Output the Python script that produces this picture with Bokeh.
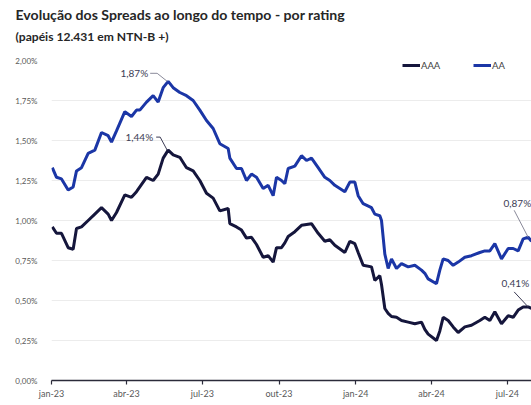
import pandas as pd
from bokeh.plotting import figure
from bokeh.models import (Range1d, FixedTicker, CustomJSTickFormatter, Legend,
                          LegendItem, Label, Title)
from bokeh.embed import file_html
from bokeh.resources import INLINE

# ---------------- data ----------------
dates = [
    "2023-01-02", "2023-01-07", "2023-01-13", "2023-01-21", "2023-01-27", "2023-01-31",
    "2023-02-06", "2023-02-14", "2023-02-22", "2023-03-02", "2023-03-10", "2023-03-14",
    "2023-03-20", "2023-03-30", "2023-04-07", "2023-04-13", "2023-04-17", "2023-04-25",
    "2023-05-03", "2023-05-09", "2023-05-15", "2023-05-21", "2023-05-27", "2023-06-04",
    "2023-06-12", "2023-06-20", "2023-06-28", "2023-07-06", "2023-07-14", "2023-07-22",
    "2023-08-01", "2023-08-03", "2023-08-11", "2023-08-17", "2023-08-23", "2023-08-29",
    "2023-09-04", "2023-09-12", "2023-09-18", "2023-09-24", "2023-09-28", "2023-10-04",
    "2023-10-08", "2023-10-12", "2023-10-20", "2023-10-28", "2023-11-03", "2023-11-09",
    "2023-11-17", "2023-11-25", "2023-12-01", "2023-12-07", "2023-12-19", "2023-12-25",
    "2023-12-31", "2024-01-04", "2024-01-10", "2024-01-20", "2024-01-24", "2024-01-30",
    "2024-02-01", "2024-02-05", "2024-02-09", "2024-02-13", "2024-02-19", "2024-02-25",
    "2024-03-04", "2024-03-12", "2024-03-20", "2024-03-24", "2024-03-28", "2024-04-07",
    "2024-04-11", "2024-04-15", "2024-04-21", "2024-04-27", "2024-05-03", "2024-05-11",
    "2024-05-19", "2024-05-29", "2024-06-04", "2024-06-10", "2024-06-16", "2024-06-24",
    "2024-07-02", "2024-07-08", "2024-07-14", "2024-07-20", "2024-07-26", "2024-07-30",
]
aa = [
    1.33, 1.27, 1.26, 1.19, 1.21, 1.31,
    1.33, 1.42, 1.44, 1.55, 1.53, 1.49,
    1.56, 1.68, 1.65, 1.69, 1.69, 1.74,
    1.78, 1.74, 1.83, 1.87, 1.83, 1.80,
    1.78, 1.75, 1.69, 1.625, 1.575, 1.48,
    1.45, 1.39, 1.325, 1.325, 1.25, 1.29,
    1.27, 1.20, 1.22, 1.155, 1.27, 1.25,
    1.23, 1.325, 1.34, 1.405, 1.375, 1.39,
    1.33, 1.27, 1.25, 1.22, 1.18, 1.24,
    1.24, 1.155, 1.105, 1.08, 1.04, 1.03,
    1.00, 0.79, 0.70, 0.76, 0.70, 0.73,
    0.71, 0.72, 0.69, 0.67, 0.635, 0.605,
    0.69, 0.76, 0.75, 0.72, 0.74, 0.77,
    0.78, 0.80, 0.81, 0.81, 0.855, 0.76,
    0.825, 0.825, 0.81, 0.885, 0.895, 0.87,
]
aaa = [
    0.96, 0.92, 0.92, 0.83, 0.82, 0.95,
    0.96, 1.00, 1.04, 1.08, 1.04, 1.00,
    1.05, 1.16, 1.145, 1.18, 1.21, 1.27,
    1.25, 1.29, 1.39, 1.44, 1.41, 1.395,
    1.33, 1.31, 1.25, 1.17, 1.14, 1.06,
    1.075, 0.98, 0.96, 0.94, 0.89, 0.895,
    0.85, 0.77, 0.78, 0.74, 0.83, 0.83,
    0.86, 0.90, 0.93, 0.97, 0.975, 0.98,
    0.92, 0.87, 0.88, 0.845, 0.80, 0.87,
    0.855, 0.80, 0.72, 0.71, 0.625, 0.655,
    0.60, 0.45, 0.42, 0.40, 0.395, 0.375,
    0.365, 0.355, 0.365, 0.32, 0.29, 0.25,
    0.31, 0.395, 0.375, 0.335, 0.30, 0.335,
    0.345, 0.375, 0.395, 0.375, 0.43, 0.355,
    0.405, 0.395, 0.44, 0.46, 0.46, 0.45,
]
series_names = ["AAA", "AA"]
tick_dates = ["2023-01-01", "2023-04-01", "2023-07-01", "2023-10-01",
              "2024-01-01", "2024-04-01", "2024-07-01"]
tick_labels = ["jan-23", "abr-23", "jul-23", "out-23", "jan-24", "abr-24", "jul-24"]
y_ticks = [0.0, 0.25, 0.5, 0.75, 1.0, 1.25, 1.5, 1.75, 2.0]
x_start, x_end = "2023-01-01", "2024-07-30"
title_text = "Evolução dos Spreads ao longo do tempo - por rating"
subtitle_text = "(papéis 12.431 em NTN-B +)"
peak_labels = ["1,87%", "1,44%"]
end_labels = ["0,87%", "0,41%"]

# ---------------- styling ----------------
C_AAA = "#15163c"
C_AA = "#1b36a6"
FONT = "Lato"
TXT = "#595959"

def ms(d):
    return pd.Timestamp(d).value / 1e6

x = [ms(d) for d in dates]
x0, x1 = ms(x_start), ms(x_end)

W, H = 531, 405
BL, BT, BB = 51, 60, 25
p = figure(width=W, height=H, x_axis_type="datetime", output_backend="svg",
           toolbar_location=None, title=None,
           x_range=Range1d(x0, x1), y_range=Range1d(0, 2.0),
           min_border_left=BL, min_border_right=0, min_border_top=BT,
           min_border_bottom=BB)
p.outline_line_color = None
p.background_fill_color = "white"
p.border_fill_color = "white"

frame_w = W - BL
frame_h = H - BT - BB
dx_px = (x1 - x0) / frame_w
dy_px = 2.0 / frame_h

r_aaa = p.line(x, aaa, line_color=C_AAA, line_width=3)
r_aa = p.line(x, aa, line_color=C_AA, line_width=3)

# axes
p.xgrid.grid_line_color = None
p.ygrid.grid_line_color = "#ececec"
p.ygrid.grid_line_width = 1
p.yaxis.ticker = FixedTicker(ticks=y_ticks)
p.yaxis.formatter = CustomJSTickFormatter(
    code="return tick.toFixed(2).replace('.', ',') + '%';")
p.yaxis.axis_line_color = None
p.yaxis.major_tick_line_color = None
p.yaxis.minor_tick_line_color = None
p.yaxis.major_label_standoff = 8
p.yaxis.major_label_text_font = FONT
p.yaxis.major_label_text_font_size = "8px"
p.yaxis.major_label_text_color = TXT

tick_ms = [ms(d) for d in tick_dates]
p.xaxis.ticker = FixedTicker(ticks=tick_ms)
p.xaxis.formatter = CustomJSTickFormatter(
    args=dict(tvals=tick_ms, tlabels=tick_labels),
    code="const i = tvals.indexOf(tick); return i >= 0 ? tlabels[i] : '';")
p.xaxis.axis_line_color = "#2b2b3a"
p.xaxis.axis_line_width = 1.5
p.xaxis.major_tick_line_color = "#2b2b3a"
p.xaxis.major_tick_line_width = 1.2
p.xaxis.major_tick_out = 4
p.xaxis.major_tick_in = 0
p.xaxis.minor_tick_line_color = None
p.xaxis.major_label_standoff = 3
p.xaxis.major_label_text_font = FONT
p.xaxis.major_label_text_font_size = "9px"
p.xaxis.major_label_text_color = TXT

# legend
legend = Legend(items=[LegendItem(label=series_names[0], renderers=[r_aaa]),
                       LegendItem(label=series_names[1], renderers=[r_aa])],
                location=(351, 309), orientation="horizontal",
                border_line_color=None, background_fill_alpha=0,
                padding=0, margin=0, spacing=32, glyph_width=18,
                glyph_height=12, label_standoff=1,
                label_text_font=FONT, label_text_font_size="9.5px",
                label_text_color="#404040")
p.add_layout(legend)

# titles
sub_kw = dict(text=subtitle_text, text_font=FONT, text_font_size="12.1px",
              text_font_style="bold", text_color="#262626", align="left",
              offset=-36)
try:
    sub_title = Title(standoff=8,
                      padding=dict(left=0, right=0, top=0, bottom=13),
                      **sub_kw)
except Exception:
    sub_title = Title(standoff=21, **sub_kw)
p.add_layout(sub_title, "above")
p.add_layout(Title(text=title_text, text_font=FONT,
                   text_font_size="14.1px", text_font_style="bold",
                   text_color="#262626", align="left", offset=-36,
                   standoff=0), "above")

# annotations
def annotate(i, series, text, color, lead, ox, oy):
    px, py = x[i], series[i]
    xs = [px + a * dx_px for a, b in lead]
    ys = [py + b * dy_px for a, b in lead]
    p.line(xs, ys, line_color=color, line_width=1)
    p.add_layout(Label(x=px, y=py, x_offset=ox, y_offset=oy, text=text,
                       text_font=FONT, text_font_size="10px",
                       text_color="#3c3c55", text_align="right",
                       text_baseline="middle"))

i_aa = aa.index(max(aa))
i_aaa = aaa.index(max(aaa))
annotate(i_aa, aa, peak_labels[0], "#8a8a9a", [(-18, 8), (-11, 8), (-1, 0)], -20, 8)
annotate(i_aaa, aaa, peak_labels[1], "#3c3c55", [(-12, 13), (-8, 13), (-1, 0)], -15, 13)
annotate(len(aa) - 2, aa, end_labels[0], "#8a8a9a", [(-14, 27), (0, 0)], 3, 34)
annotate(len(aaa) - 2, aaa, end_labels[1], "#3c3c55", [(-14, 15), (0, 0)], 1, 24)

open("out.html", "w").write(file_html(p, INLINE))
